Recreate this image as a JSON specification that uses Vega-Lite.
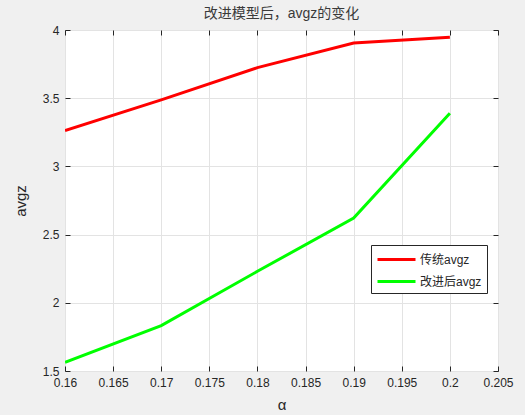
{
  "$schema": "https://vega.github.io/schema/vega-lite/v6.json",
  "width": 433,
  "height": 341,
  "autosize": {"type": "none"},
  "padding": {"left": 65, "top": 30, "right": 27, "bottom": 44},
  "background": "#f0f0f0",
  "config": {
    "view": {"fill": "white", "stroke": "#262626", "strokeWidth": 1},
    "font": "Liberation Sans",
    "axis": {
      "labelFont": "Liberation Sans",
      "labelFontSize": 12,
      "labelColor": "#262626",
      "labelFlush": false,
      "labelOverlap": false,
      "titleFont": "Liberation Sans",
      "titleColor": "#262626",
      "titleFontWeight": "normal",
      "domain": false,
      "tickColor": "#262626",
      "gridColor": "#e3e3e3",
      "gridWidth": 1
    }
  },
  "title": {
    "text": "改进模型后，avgz的变化",
    "font": "Liberation Sans, Noto Sans CJK SC",
    "fontSize": 14,
    "fontWeight": "normal",
    "color": "#3a3a3a",
    "offset": 3
  },
  "data": {
    "values": [
      {"alpha": 0.16, "avg": 3.263, "series": "传统avgz"},
      {"alpha": 0.17, "avg": 3.488, "series": "传统avgz"},
      {"alpha": 0.18, "avg": 3.724, "series": "传统avgz"},
      {"alpha": 0.19, "avg": 3.905, "series": "传统avgz"},
      {"alpha": 0.2, "avg": 3.947, "series": "传统avgz"},
      {"alpha": 0.16, "avg": 1.564, "series": "改进后avgz"},
      {"alpha": 0.17, "avg": 1.833, "series": "改进后avgz"},
      {"alpha": 0.18, "avg": 2.231, "series": "改进后avgz"},
      {"alpha": 0.19, "avg": 2.621, "series": "改进后avgz"},
      {"alpha": 0.2, "avg": 3.39, "series": "改进后avgz"}
    ]
  },
  "layer": [
    {
      "mark": {"type": "line", "strokeWidth": 3, "clip": true},
      "encoding": {
        "x": {
          "field": "alpha", "type": "quantitative",
          "scale": {"domain": [0.16, 0.205], "nice": false, "zero": false},
          "axis": {
            "title": "α", "titleFontSize": 15, "titlePadding": 9,
            "values": [0.16, 0.165, 0.17, 0.175, 0.18, 0.185, 0.19, 0.195, 0.2, 0.205],
            "format": ".3~f", "tickSize": -5, "labelPadding": 11, "grid": true
          }
        },
        "y": {
          "field": "avg", "type": "quantitative",
          "scale": {"domain": [1.5, 4], "nice": false, "zero": false},
          "axis": {
            "title": "avgz", "titleFontSize": 15, "titlePadding": 14,
            "values": [1.5, 2, 2.5, 3, 3.5, 4],
            "format": "~g", "tickSize": -5, "labelPadding": 11, "grid": true
          }
        },
        "color": {
          "field": "series", "type": "nominal",
          "scale": {"domain": ["传统avgz", "改进后avgz"], "range": ["#ff0000", "#00ff00"]},
          "legend": {
            "title": null,
            "orient": "none",
            "legendX": 306,
            "legendY": 215,
            "symbolType": "M-2.375,0H2.375",
            "symbolSize": 256,
            "symbolStrokeWidth": 3,
            "symbolOffset": 11,
            "labelFont": "Liberation Sans, Noto Sans CJK SC",
            "labelFontSize": 12,
            "labelColor": "#262626",
            "fillColor": "white",
            "strokeColor": "#262626",
            "padding": 5,
            "rowPadding": 6,
            "labelOffset": 14
          }
        }
      }
    },
    {
      "mark": {"type": "line", "opacity": 0},
      "encoding": {
        "x": {
          "field": "alpha", "type": "quantitative",
          "axis": {"orient": "top", "title": null, "labels": false, "grid": false,
                   "values": [0.16, 0.165, 0.17, 0.175, 0.18, 0.185, 0.19, 0.195, 0.2, 0.205],
                   "tickSize": -5}
        },
        "y": {
          "field": "avg", "type": "quantitative",
          "axis": {"orient": "right", "title": null, "labels": false, "grid": false,
                   "values": [1.5, 2, 2.5, 3, 3.5, 4], "tickSize": -5}
        }
      }
    }
  ],
  "resolve": {"axis": {"x": "independent", "y": "independent"}}
}
